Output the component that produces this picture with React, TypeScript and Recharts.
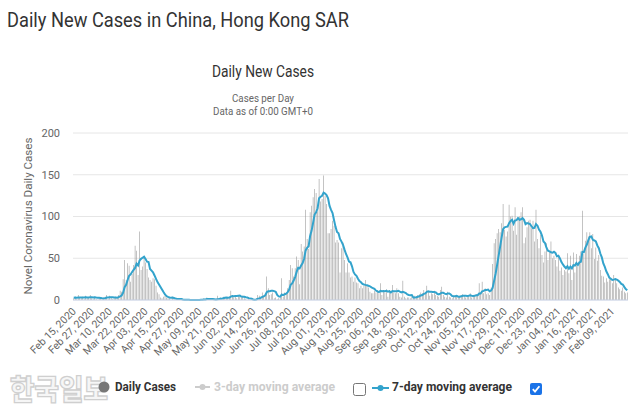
import React from "react";
import { ComposedChart, Bar, Line, XAxis, YAxis, CartesianGrid } from "recharts";

// first day on the axis: Feb 15, 2020
const START_DATE = Date.UTC(2020, 1, 15);
const MONTHS = ["Jan", "Feb", "Mar", "Apr", "May", "Jun", "Jul", "Aug", "Sep", "Oct", "Nov", "Dec"];

const dailyCases = [
  // Feb 15-29, 2020
  2, 4, 1, 6, 3, 2, 4, 1, 5, 2, 3, 6, 2, 1, 4,
  // Mar
  1, 0, 2, 3, 1, 3, 4, 6, 1, 5, 3, 1, 2, 4, 3, 6, 11, 10, 25, 48, 24, 44, 41, 22, 31, 42, 65, 59, 30, 82, 36,
  // Apr
  40, 51, 45, 37, 27, 24, 22, 26, 25, 17, 9, 7, 3, 2, 4, 5, 3, 2, 2, 0, 4, 1, 0, 0, 1, 2, 0, 0, 0, 0,
  // May
  0, 0, 0, 0, 0, 0, 0, 1, 0, 1, 1, 2, 1, 3, 1, 0, 1, 0, 0, 0, 5, 2, 3, 1, 4, 3, 2, 4, 3, 11, 6,
  // Jun
  3, 5, 2, 6, 4, 3, 5, 2, 1, 0, 1, 0, 1, 0, 0, 2, 6, 5, 4, 9, 5, 8, 28, 14, 6, 7, 9, 2, 3, 1,
  // Jul
  2, 3, 26, 4, 9, 8, 14, 24, 42, 38, 28, 38, 52, 48, 19, 67, 58, 64, 108, 73, 61, 105, 113, 123, 133, 128, 106, 145, 118, 121, 149,
  // Aug
  125, 115, 80, 80, 85, 95, 89, 69, 72, 69, 33, 62, 69, 48, 33, 44, 33, 27, 28, 22, 27, 21, 20, 14, 17, 14, 17, 24, 18, 15, 10,
  // Sep
  8, 8, 11, 9, 12, 8, 20, 6, 10, 9, 13, 4, 12, 9, 18, 9, 8, 14, 8, 4, 3, 23, 4, 2, 3, 3, 2, 4, 3, 5,
  // Oct
  4, 6, 7, 9, 8, 12, 9, 17, 10, 5, 8, 7, 11, 6, 5, 4, 12, 16, 6, 4, 3, 10, 4, 3, 2, 5, 4, 6, 3, 5, 6,
  // Nov
  7, 5, 3, 4, 6, 8, 3, 5, 6, 7, 5, 20, 8, 22, 8, 14, 7, 8, 6, 15, 43, 68, 73, 80, 85, 81, 92, 115, 84, 76,
  // Dec
  82, 114, 100, 101, 83, 111, 78, 99, 100, 105, 111, 68, 75, 87, 95, 96, 86, 95, 70, 108, 73, 62, 78, 54, 45, 58, 68, 48, 57, 70, 50,
  // Jan 2021
  53, 48, 40, 53, 35, 39, 30, 36, 34, 56, 32, 53, 24, 57, 33, 55, 40, 53, 58, 107, 55, 71, 81, 76, 81, 62, 79, 49, 63, 47, 54,
  // Feb 1-19, 2021
  36, 29, 28, 21, 26, 22, 25, 27, 20, 30, 26, 20, 15, 13, 11, 15, 10, 8, 9,
];

const movingAvg7 = [
  // Feb 15-29, 2020
  2.6, 2.9, 2.7, 3.1, 3.0, 3.1, 3.1, 3.0, 3.4, 3.1, 3.0, 3.3, 3.3, 2.9, 3.3,
  // Mar
  2.9, 2.6, 2.6, 2.4, 2.0, 1.9, 2.0, 2.9, 2.9, 3.3, 3.3, 3.4, 3.0, 3.1, 2.7, 3.4, 4.3, 5.3, 8.7, 15.3, 18.1, 24, 29, 30.6, 33.6, 36, 38.4, 43.4, 41.4, 47.3, 49.3,
  // Apr
  50.6, 51.9, 49, 45.9, 45.4, 37.1, 35.1, 33.1, 29.4, 25.4, 21.4, 18.6, 15.6, 12.7, 9.6, 6.7, 4.7, 3.7, 3, 2.6, 2.9, 2.4, 1.7, 1.3, 1.1, 1.1, 1.1, 0.6, 0.4, 0.4,
  // May
  0.4, 0.3, 0, 0, 0, 0, 0, 0.1, 0.1, 0.3, 0.4, 0.7, 0.7, 1.1, 1.3, 1.1, 1.3, 1.1, 0.9, 0.7, 1, 1.1, 1.6, 1.6, 2.1, 2.6, 2.9, 2.7, 2.9, 4, 4.7,
  // Jun
  4.6, 4.9, 4.9, 5.1, 5.3, 4.1, 4, 3.9, 3.3, 3, 2.3, 1.7, 1.4, 0.7, 0.4, 0.6, 1.4, 2, 2.6, 3.7, 4.4, 5.6, 9.3, 10.4, 10.6, 11, 11, 10.6, 9.9, 6,
  // Jul
  4.3, 3.9, 6.6, 5.9, 6.9, 7.6, 9.4, 12.6, 18.1, 19.9, 23.3, 27.4, 33.7, 38.6, 37.9, 41.4, 44.3, 49.4, 59.4, 62.4, 64.3, 76.6, 83.1, 92.4, 102.3, 105.1, 109.9, 121.9, 123.7, 124.9, 128.6,
  // Aug
  127.4, 125.6, 121.9, 112.6, 107.9, 104.1, 95.6, 87.6, 81.4, 79.9, 73.1, 69.9, 66.1, 60.3, 55.1, 51.1, 46, 45.1, 40.3, 33.6, 30.6, 28.9, 25.4, 22.7, 21.3, 19.3, 18.6, 18.1, 17.7, 17, 16.4,
  // Sep
  15.1, 14.3, 13.4, 11.3, 10.4, 9.4, 10.9, 10.6, 10.9, 10.6, 11.1, 10, 10.6, 9, 10.7, 10.6, 10.4, 10.6, 11.1, 10, 9.1, 9.9, 9.1, 8.3, 6.7, 6, 5.7, 5.9, 3, 3.1,
  // Oct
  3.4, 3.9, 4.4, 5.4, 6, 7.3, 7.9, 9.7, 10.3, 10, 9.9, 9.7, 9.6, 9.1, 7.4, 6.6, 7.6, 8.7, 8.6, 7.6, 7.1, 7.9, 7.9, 6.6, 4.6, 4.4, 4.4, 4.9, 3.9, 4, 4.4,
  // Nov
  5.1, 5.1, 5, 4.7, 5.1, 5.6, 5.1, 4.9, 5, 5.6, 5.7, 7.7, 7.7, 10.4, 10.9, 12, 12, 12.4, 10.4, 11.4, 14.4, 23, 31.4, 41.9, 52.9, 63.6, 74.6, 84.9, 87.1, 87.6,
  // Dec
  87.9, 92, 94.7, 96, 91.4, 95.3, 95.6, 98, 96, 96.7, 98.1, 96, 90.9, 92.1, 91.6, 91, 88.3, 86, 86.3, 91, 89, 84.3, 81.7, 77.1, 70, 68.3, 62.6, 59, 58.3, 57.1, 56.6,
  // Jan 2021
  57.7, 56.3, 52.3, 53, 49.9, 45.4, 42.6, 40.1, 38.1, 40.4, 37.4, 40, 37.9, 41.7, 41.3, 44.3, 42, 45, 45.7, 57.6, 57.3, 62.7, 66.4, 71.6, 75.6, 76.1, 72.1, 71.3, 70.1, 65.3, 62.1,
  // Feb 1-19, 2021
  55.7, 51, 43.7, 39.7, 34.4, 30.9, 26.7, 25.4, 24.1, 24.4, 25.1, 24.3, 23.3, 21.6, 19.3, 18.6, 15.7, 13.1, 11.6,
];

const yTicks = [0, 50, 100, 150, 200];

const dateLabel = (i: number) => {
  const d = new Date(START_DATE + i * 86400000);
  return `${MONTHS[d.getUTCMonth()]} ${String(d.getUTCDate()).padStart(2, "0")}, ${d.getUTCFullYear()}`;
};

const data = dailyCases.map((v, i) => ({ date: dateLabel(i), cases: v, avg: movingAvg7[i] }));

const LINE_COLOR = "#33a3cc";
const FONT = "Roboto, 'Open Sans', sans-serif";

const XTick = ({ x, y, payload }: any) => {
  const tx = x + 3;
  const ty = y + 12;
  return (
    <text x={tx} y={ty} transform={`rotate(-45 ${tx} ${ty})`} textAnchor="end" fontSize={10.5} fill="#666" fontFamily={FONT}>
      {payload.value}
    </text>
  );
};

export default function App() {
  return (
    <div style={{ position: "absolute", left: 0, top: 0, width: 640, height: 411, background: "#fff", fontFamily: FONT }}>
      <ComposedChart
        width={640}
        height={411}
        data={data}
        margin={{ top: 133, right: 12, bottom: 51, left: 13 }}
        barCategoryGap="32%"
      >
        <CartesianGrid horizontal vertical={false} stroke="#e6e6e6" />
        <XAxis
          dataKey="date"
          interval={11}
          height={60}
          tickSize={0}
          tickMargin={0}
          axisLine={{ stroke: "#ccd6eb" }}
          tick={<XTick />}
        />
        <YAxis
          domain={[0, 200]}
          ticks={yTicks}
          width={60}
          axisLine={false}
          tickLine={false}
          tickSize={0}
          tickMargin={13}
          tick={{ fill: "#666", fontSize: 11, fontFamily: FONT }}
        />
        <Bar dataKey="cases" fill="#8f8f8f" isAnimationActive={false} />
        <Line type="linear" dataKey="avg" stroke={LINE_COLOR} strokeWidth={2} dot={false} isAnimationActive={false} />
      </ComposedChart>

      <svg width={640} height={411} style={{ position: "absolute", left: 0, top: 0, pointerEvents: "none" }} fontFamily={FONT}>
        <text x={7} y={27} fontSize={20} fill="#333" textLength={342} lengthAdjust="spacingAndGlyphs">
          Daily New Cases in China, Hong Kong SAR
        </text>
        <text x={263} y={77} fontSize={16} fill="#333" textAnchor="middle" textLength={102} lengthAdjust="spacingAndGlyphs">
          Daily New Cases
        </text>
        <text x={263} y={102} fontSize={11} fill="#666" textAnchor="middle" textLength={62} lengthAdjust="spacingAndGlyphs">
          Cases per Day
        </text>
        <text x={263} y={115} fontSize={11} fill="#666" textAnchor="middle" textLength={100} lengthAdjust="spacingAndGlyphs">
          Data as of 0:00 GMT+0
        </text>
        <text
          x={32}
          y={216}
          fontSize={11.5}
          fill="#666"
          textAnchor="middle"
          transform="rotate(-90 32 216)"
          textLength={157}
          lengthAdjust="spacingAndGlyphs"
        >
          Novel Coronavirus Daily Cases
        </text>

        {/* watermark */}
        <text
          x={10}
          y={400}
          fontSize={28}
          fontWeight={900}
          fontFamily="'Noto Sans CJK KR', sans-serif"
          fill="#f6f6f6"
          stroke="#cfcfcf"
          strokeWidth={1.3}
          textLength={98}
          lengthAdjust="spacingAndGlyphs"
        >
          한국일보
        </text>

        {/* legend */}
        <circle cx={104} cy={387} r={5.5} fill="#777" />
        <text x={115} y={391} fontSize={12} fontWeight={700} fill="#333" textLength={61} lengthAdjust="spacingAndGlyphs">
          Daily Cases
        </text>
        <line x1={195} y1={387} x2={210} y2={387} stroke="#ccc" strokeWidth={2} />
        <circle cx={202.5} cy={387} r={3} fill="#ccc" />
        <text x={214} y={391} fontSize={12} fontWeight={700} fill="#ccc" textLength={121} lengthAdjust="spacingAndGlyphs">
          3-day moving average
        </text>
        <rect x={353.5} y={383.5} width={12} height={12} rx={2} fill="#fff" stroke="#767676" />
        <line x1={372} y1={388} x2={389} y2={388} stroke={LINE_COLOR} strokeWidth={2} />
        <circle cx={380.5} cy={388} r={3} fill={LINE_COLOR} />
        <text x={392} y={391} fontSize={12} fontWeight={700} fill="#333" textLength={120} lengthAdjust="spacingAndGlyphs">
          7-day moving average
        </text>
        <rect x={530} y={383} width={12} height={12} rx={2} fill="#1a73e8" />
        <path d="M532.8 389.2 L535 391.6 L539.4 386.2" fill="none" stroke="#fff" strokeWidth={1.8} />
      </svg>
    </div>
  );
}
